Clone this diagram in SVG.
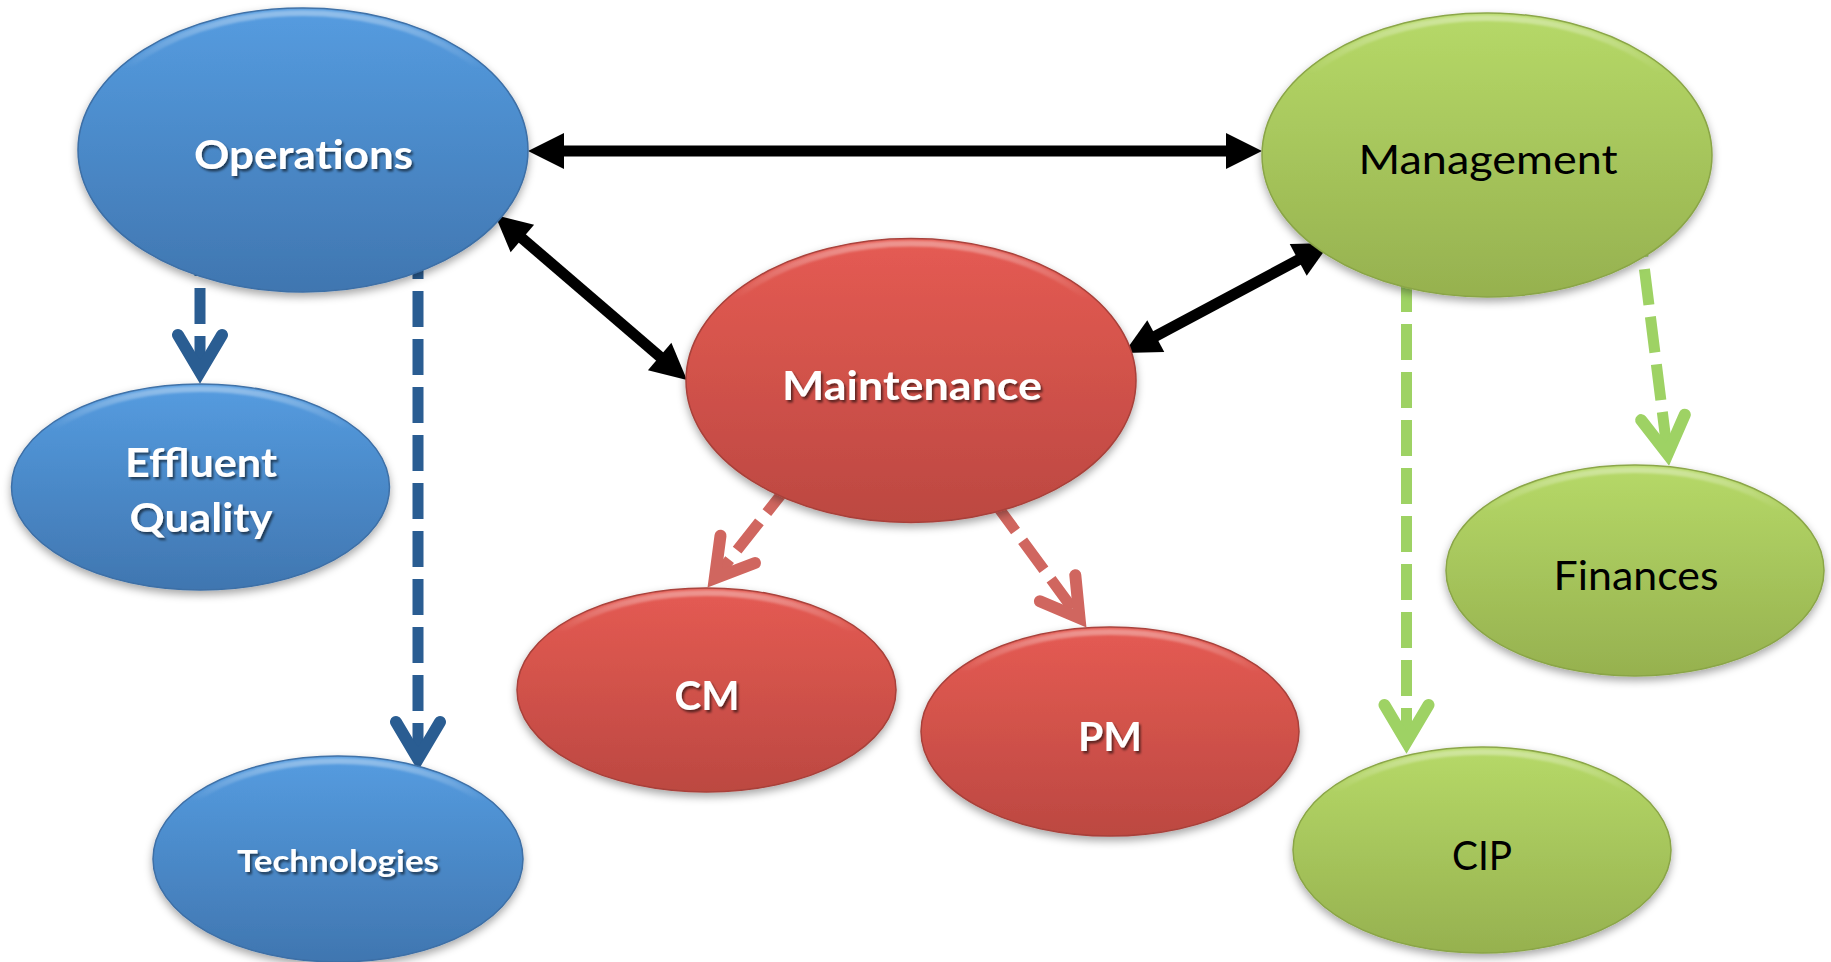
<svg xmlns="http://www.w3.org/2000/svg" width="1831" height="962" viewBox="0 0 1831 962">
<defs>
<linearGradient id="gBlue" x1="0" y1="0" x2="0" y2="1">
<stop offset="0" stop-color="#559CE0"/><stop offset="1" stop-color="#4076B0"/>
</linearGradient>
<linearGradient id="gRed" x1="0" y1="0" x2="0" y2="1">
<stop offset="0" stop-color="#E55B53"/><stop offset="1" stop-color="#BC4841"/>
</linearGradient>
<linearGradient id="gGreen" x1="0" y1="0" x2="0" y2="1">
<stop offset="0" stop-color="#B6D968"/><stop offset="1" stop-color="#96B14F"/>
</linearGradient>
<linearGradient id="gHi" x1="0" y1="0" x2="0" y2="1">
<stop offset="0" stop-color="#FFFFFF" stop-opacity="0.35"/><stop offset="0.2" stop-color="#FFFFFF" stop-opacity="0"/>
</linearGradient>
<filter id="shadow" x="-10%" y="-10%" width="120%" height="125%">
<feDropShadow dx="0" dy="4" stdDeviation="4" flood-color="#000" flood-opacity="0.35"/>
</filter>
<filter id="soft" x="-5%" y="-5%" width="110%" height="110%">
<feGaussianBlur stdDeviation="1.2"/>
</filter>
<filter id="tshadow" x="-10%" y="-20%" width="120%" height="150%">
<feDropShadow dx="2" dy="2.5" stdDeviation="1.2" flood-color="#000" flood-opacity="0.55"/>
</filter>
<marker id="tri" markerUnits="userSpaceOnUse" viewBox="-10 -20 42 40" refX="0" refY="0" markerWidth="42" markerHeight="40" orient="auto-start-reverse">
<path d="M30 0 L-6 -18 L-6 18 Z" fill="#000"/>
</marker>
<marker id="vBlue" markerUnits="userSpaceOnUse" viewBox="-50 -30 70 60" refX="0" refY="0" markerWidth="70" markerHeight="60" orient="auto">
<path d="M-37 -22 L0 0 L-37 22" fill="none" stroke="#2A5D92" stroke-width="12" stroke-linecap="round" stroke-linejoin="miter"/>
</marker>
<marker id="vRed" markerUnits="userSpaceOnUse" viewBox="-50 -30 70 60" refX="0" refY="0" markerWidth="70" markerHeight="60" orient="auto">
<path d="M-37 -22 L0 0 L-37 22" fill="none" stroke="#D0665F" stroke-width="12" stroke-linecap="round" stroke-linejoin="miter"/>
</marker>
<marker id="vGreen" markerUnits="userSpaceOnUse" viewBox="-50 -30 70 60" refX="0" refY="0" markerWidth="70" markerHeight="60" orient="auto">
<path d="M-37 -22 L0 0 L-37 22" fill="none" stroke="#9ED264" stroke-width="12" stroke-linecap="round" stroke-linejoin="miter"/>
</marker>
</defs>
<style>
.blue{fill:url(#gBlue);stroke:#3D6FA6;stroke-width:1.5;filter:url(#shadow)}
.red{fill:url(#gRed);stroke:#A8413A;stroke-width:1.5;filter:url(#shadow)}
.green{fill:url(#gGreen);stroke:#8AA547;stroke-width:1.5;filter:url(#shadow)}
.hi{fill:none;stroke:url(#gHi);stroke-width:6;filter:url(#soft)}
.lw{font-family:Lato,"Open Sans","Liberation Sans",sans-serif;font-weight:bold;font-size:41px;fill:#fff;text-anchor:middle;filter:url(#tshadow)}
.lb{font-family:Lato,"Open Sans","Liberation Sans",sans-serif;font-size:40px;fill:#000;text-anchor:middle}
.both{fill:none;stroke:#000;stroke-width:11;marker-start:url(#tri);marker-end:url(#tri)}
.dblue{fill:none;stroke:#2A5D92;stroke-width:11;stroke-dasharray:36 12;marker-end:url(#vBlue)}
.dred{fill:none;stroke:#D0665F;stroke-width:11;stroke-dasharray:36 12;marker-end:url(#vRed)}
.dgreen{fill:none;stroke:#9ED264;stroke-width:11;stroke-dasharray:36 12;marker-end:url(#vGreen)}
</style>
<rect width="1831" height="962" fill="#fff"/>
<g id="connectors">
<path class="dblue" d="M200 240 L200 372"/>
<path class="dblue" d="M418 243 L418 759"/>
<path class="dred" d="M789.2 484.3 L714.8 578.4"/>
<path class="dred" d="M994.2 502 L1079.5 618.1"/>
<path class="dgreen" d="M1406.5 276 L1406.5 742"/>
<path class="dgreen" d="M1638.5 221.5 L1667.6 454.1"/>
<path class="both" d="M558 151 L1232 151"/>
<path class="both" d="M517.8 234.6 L664.2 360.4"/>
<path class="both" d="M1150.5 338.9 L1303.5 257.1"/>
</g>
<g id="operations">
<ellipse class="blue" cx="303" cy="150" rx="225" ry="142"/>
<ellipse class="hi" cx="303" cy="152" rx="221" ry="139"/>
<text class="lw" x="303.5" y="169" textLength="219" lengthAdjust="spacingAndGlyphs">Operations</text>
</g>
<g id="management">
<ellipse class="green" cx="1487" cy="155" rx="225" ry="142"/>
<ellipse class="hi" cx="1487" cy="157" rx="221" ry="139"/>
<text class="lb" x="1488" y="174" textLength="259" lengthAdjust="spacingAndGlyphs">Management</text>
</g>
<g id="maintenance">
<ellipse class="red" cx="911" cy="380.5" rx="225" ry="142"/>
<ellipse class="hi" cx="911" cy="382.5" rx="221" ry="139"/>
<text class="lw" x="912" y="400" textLength="260" lengthAdjust="spacingAndGlyphs">Maintenance</text>
</g>
<g id="effluent-quality">
<ellipse class="blue" cx="200.5" cy="487" rx="189" ry="103"/>
<ellipse class="hi" cx="200.5" cy="489" rx="185" ry="100"/>
<text class="lw" x="201" y="477" textLength="152" lengthAdjust="spacingAndGlyphs">Effluent</text>
<text class="lw" x="201" y="532" textLength="143" lengthAdjust="spacingAndGlyphs">Quality</text>
</g>
<g id="technologies">
<ellipse class="blue" cx="338" cy="859" rx="185" ry="103"/>
<ellipse class="hi" cx="338" cy="861" rx="181" ry="100"/>
<text class="lw" x="338" y="872" style="font-size:31px" textLength="202" lengthAdjust="spacingAndGlyphs">Technologies</text>
</g>
<g id="cm">
<ellipse class="red" cx="706.5" cy="690" rx="189.5" ry="102"/>
<ellipse class="hi" cx="706.5" cy="692" rx="185.5" ry="99"/>
<text class="lw" x="707" y="710" textLength="65" lengthAdjust="spacingAndGlyphs">CM</text>
</g>
<g id="pm">
<ellipse class="red" cx="1110" cy="731.5" rx="189" ry="104.5"/>
<ellipse class="hi" cx="1110" cy="733.5" rx="185" ry="101.5"/>
<text class="lw" x="1110" y="751" textLength="64" lengthAdjust="spacingAndGlyphs">PM</text>
</g>
<g id="finances">
<ellipse class="green" cx="1635" cy="570.5" rx="189" ry="105.5"/>
<ellipse class="hi" cx="1635" cy="572.5" rx="185" ry="102.5"/>
<text class="lb" x="1636" y="590" textLength="165" lengthAdjust="spacingAndGlyphs">Finances</text>
</g>
<g id="cip">
<ellipse class="green" cx="1482" cy="850" rx="189" ry="103"/>
<ellipse class="hi" cx="1482" cy="852" rx="185" ry="100"/>
<text class="lb" x="1482" y="870" textLength="60" lengthAdjust="spacingAndGlyphs">CIP</text>
</g>
</svg>
